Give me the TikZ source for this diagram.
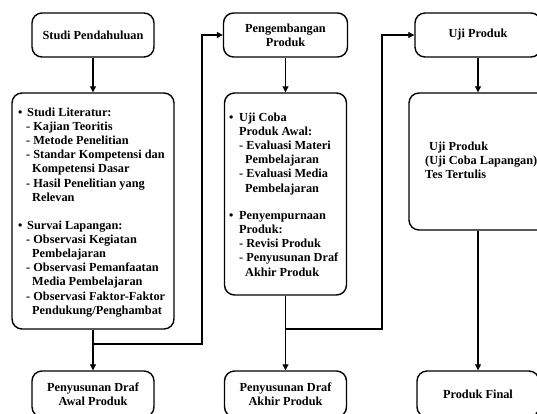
\documentclass[tikz,border=0pt]{standalone}
\usepackage{fontspec}
\setmainfont{Liberation Serif}
\usetikzlibrary{arrows.meta}
\begin{document}
\begin{tikzpicture}[x=1pt,y=-1pt,
  box/.style={draw, line width=1.4pt, rounded corners=10pt, inner sep=0pt},
  conn/.style={line width=1.1pt, line join=miter},
  arr/.style={conn,-{Triangle[length=6pt,width=6pt]}},
  txt/.style={font=\fontsize{12.3}{14.2}\selectfont\bfseries, inner sep=0pt},
]
\path[use as bounding box, clip] (0,0) rectangle (537,414);
\fill[white] (0,0) rectangle (537,414);

% column 1
\node[box, txt, minimum width=122pt, minimum height=44pt] (sp) at (93,35) {Studi Pendahuluan};
\node[box, minimum width=162pt, minimum height=236pt] (lit) at (93,211) {};
\node[box, txt, align=center, minimum width=122pt, minimum height=46pt] (d1) at (93,394) {Penyusunan Draf\\Awal Produk};
\node[txt, align=left, anchor=base west] (littext) at (18,314.2) {%
\makebox[9pt][l]{\textbullet}Studi Literatur:\\
\hspace*{8pt}- Kajian Teoritis\\
\hspace*{8pt}- Metode Penelitian\\
\hspace*{8pt}- Standar Kompetensi dan\\
\hspace*{14pt}Kompetensi Dasar\\
\hspace*{8pt}- Hasil Penelitian yang\\
\hspace*{14pt}Relevan\\[13.6pt]
\makebox[9pt][l]{\textbullet}Survai Lapangan:\\
\hspace*{8pt}- Observasi Kegiatan\\
\hspace*{14pt}Pembelajaran\\
\hspace*{8pt}- Observasi Pemanfaatan\\
\hspace*{14pt}Media Pembelajaran\\
\hspace*{8pt}- Observasi Faktor-Faktor\\
\hspace*{14pt}Pendukung/Penghambat};

% column 2
\node[box, txt, align=center, minimum width=124pt, minimum height=44pt] (pg) at (285.5,35) {Pengembangan\\Produk};
\node[box, minimum width=122pt, minimum height=202pt] (uc) at (285.5,194) {};
\node[box, txt, align=center, minimum width=122pt, minimum height=46pt] (d2) at (285.5,394) {Penyusunan Draf\\Akhir Produk};
\node[txt, align=left, anchor=base west] (uctext) at (229,276) {%
\makebox[10pt][l]{\textbullet}Uji Coba\\
\hspace*{10pt}Produk Awal:\\
\hspace*{10pt}- Evaluasi Materi\\
\hspace*{16pt}Pembelajaran\\
\hspace*{10pt}- Evaluasi Media\\
\hspace*{16pt}Pembelajaran\\[13pt]
\makebox[10pt][l]{\textbullet}Penyempurnaan\\
\hspace*{10pt}Produk:\\
\hspace*{10pt}- Revisi Produk\\
\hspace*{10pt}- Penyusunan Draf\\
\hspace*{16pt}Akhir Produk};

% column 3
\node[box, txt, minimum width=126pt, minimum height=44pt] (up) at (478,35) {Uji Produk};
\node[box, minimum width=138pt, minimum height=137pt] (ul) at (478,161.5) {};
\node[box, txt, minimum width=122pt, minimum height=46pt] (pf) at (478,394) {Produk Final};
\node[txt, align=left, anchor=base west] (ultext) at (425,178.4) {%
\hspace*{4pt}Uji Produk\\
(Uji Coba Lapangan)\\
Tes Tertulis};

% connectors
\coordinate (j1) at (93,344);
\coordinate (k1) at (202,344);
\coordinate (j2) at (285.5,329);
\coordinate (k2) at (382,329);
\draw[arr] (sp) -- (lit);
\draw[arr] (lit) -- (d1);
\draw[arr] (j1) -- (k1) |- (pg);
\draw[arr] (pg) -- (uc);
\draw[arr] (uc) -- (d2);
\draw[arr] (j2) -- (k2) |- (up);
\draw[arr] (up) -- (ul);
\draw[arr] (ul) -- (pf);
\end{tikzpicture}
\end{document}
